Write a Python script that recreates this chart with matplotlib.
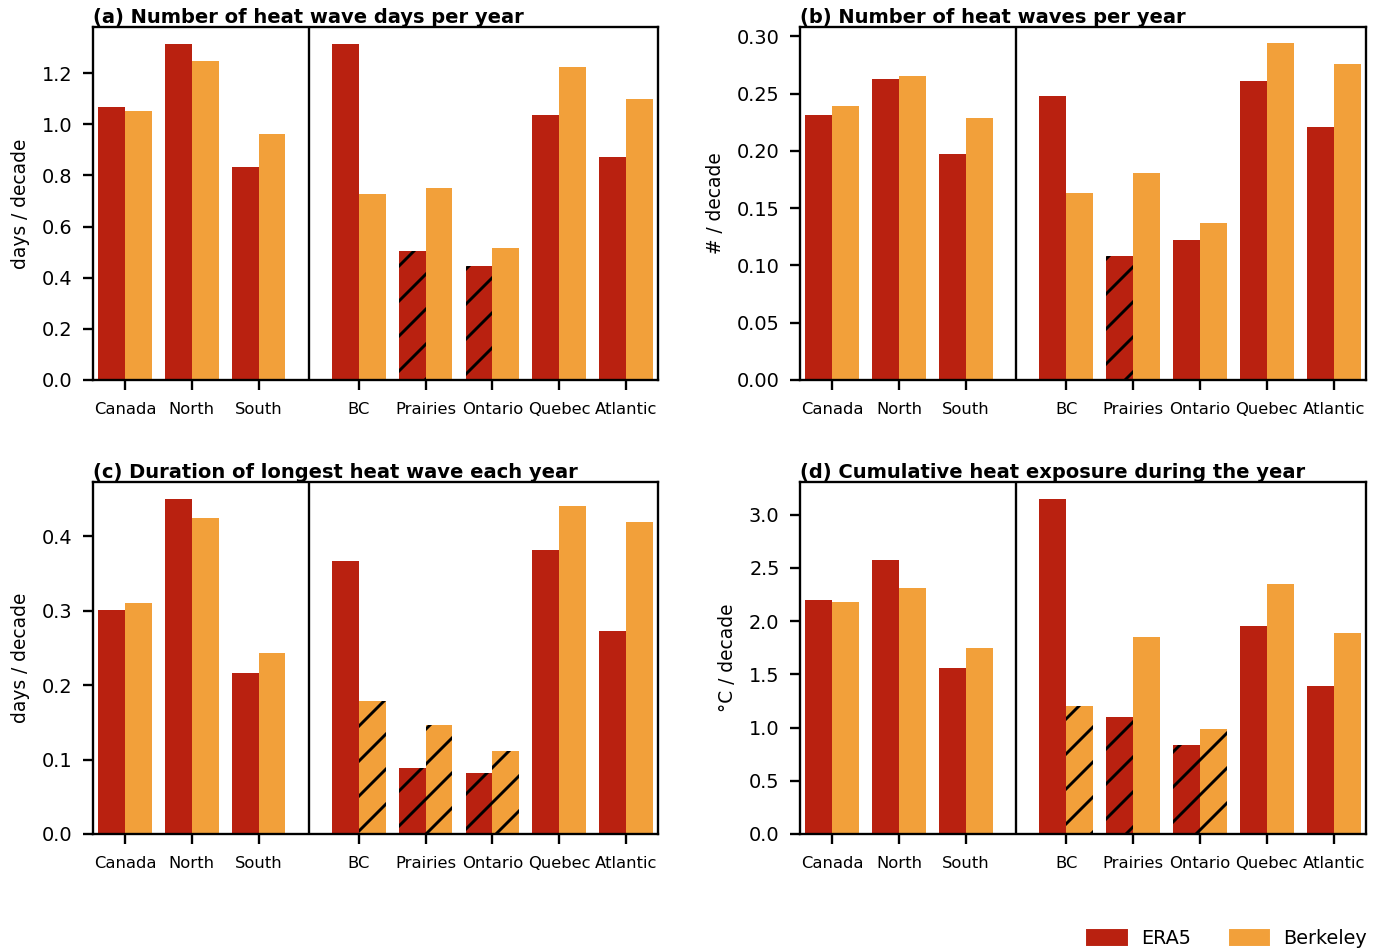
import numpy as np
import matplotlib
matplotlib.use('Agg')
import matplotlib.pyplot as plt
from matplotlib.patches import Patch

# Regions and trend values (per decade)
regions = ['Canada', 'North', 'South', 'BC', 'Prairies', 'Ontario', 'Quebec', 'Atlantic']

# (a) number of heat wave days per year
hwd_era5 = [1.066, 1.315, 0.834, 1.315, 0.504, 0.447, 1.037, 0.871]
hwd_berk = [1.053, 1.247, 0.964, 0.727, 0.752, 0.516, 1.225, 1.100]
# (b) number of heat waves per year
hwn_era5 = [0.231, 0.263, 0.197, 0.248, 0.108, 0.122, 0.261, 0.221]
hwn_berk = [0.239, 0.265, 0.229, 0.163, 0.181, 0.137, 0.294, 0.276]
# (c) duration of longest heat wave
hwl_era5 = [0.301, 0.450, 0.216, 0.367, 0.089, 0.082, 0.382, 0.273]
hwl_berk = [0.311, 0.424, 0.243, 0.179, 0.147, 0.111, 0.441, 0.419]
# (d) cumulative heat exposure
hwc_era5 = [2.20, 2.57, 1.56, 3.15, 1.10, 0.84, 1.95, 1.39]
hwc_berk = [2.18, 2.31, 1.75, 1.20, 1.85, 0.99, 2.35, 1.89]

# not significant -> hatched
hatch_era5 = {
    'a': [False, False, False, False, True, True, False, False],
    'b': [False, False, False, False, True, False, False, False],
    'c': [False, False, False, False, True, True, False, False],
    'd': [False, False, False, False, True, True, False, False],
}
hatch_berk = {
    'a': [False] * 8,
    'b': [False] * 8,
    'c': [False, False, False, True, True, True, False, False],
    'd': [False, False, False, True, False, True, False, False],
}

titles = {
    'a': '(a) Number of heat wave days per year',
    'b': '(b) Number of heat waves per year',
    'c': '(c) Duration of longest heat wave each year',
    'd': '(d) Cumulative heat exposure during the year',
}
ylabels = {'a': 'days / decade', 'b': '# / decade', 'c': 'days / decade', 'd': '°C / decade'}
ylims = {'a': 1.38, 'b': 0.308, 'c': 0.473, 'd': 3.306}
data = {
    'a': (hwd_era5, hwd_berk),
    'b': (hwn_era5, hwn_berk),
    'c': (hwl_era5, hwl_berk),
    'd': (hwc_era5, hwc_berk),
}

c_era5 = '#B92110'
c_berk = '#F2A03A'

plt.rcParams['font.family'] = 'DejaVu Sans'
plt.rcParams['hatch.linewidth'] = 1.0

dpi = 210
fig = plt.figure(figsize=(1379 / dpi, 949 / dpi), dpi=dpi)

xpos = np.array([0, 1, 2, 3.5, 4.5, 5.5, 6.5, 7.5])
w = 0.4

boxes = {
    'a': [0.0674, 0.5996, 0.4098, 0.3717],
    'b': [0.5801, 0.5996, 0.4104, 0.3717],
    'c': [0.0674, 0.1212, 0.4098, 0.3709],
    'd': [0.5801, 0.1212, 0.4104, 0.3709],
}

for key in ['a', 'b', 'c', 'd']:
    ax = fig.add_axes(boxes[key])
    era5, berk = data[key]
    b1 = ax.bar(xpos - w / 2, era5, w, color=c_era5)
    b2 = ax.bar(xpos + w / 2, berk, w, color=c_berk)
    for bar, h in zip(b1, hatch_era5[key]):
        if h:
            bar.set_hatch('//')
    for bar, h in zip(b2, hatch_berk[key]):
        if h:
            bar.set_hatch('//')
    ax.axvline(2.75, color='black', linewidth=0.8)
    ax.set_xlim(-0.48, 7.98)
    ax.set_ylim(0, ylims[key])
    ax.set_xticks(xpos)
    ax.set_xticklabels(regions, fontsize=5.6)
    ax.tick_params(axis='y', labelsize=6.6)
    ax.tick_params(axis='x', pad=4)
    ax.set_ylabel(ylabels[key], fontsize=6.4)
    ax.set_title(titles[key], loc='left', fontsize=6.7, fontweight='bold', pad=1.5)

handles = [Patch(color=c_era5, label='ERA5'), Patch(color=c_berk, label='Berkeley')]
fig.legend(handles=handles, loc='lower right', bbox_to_anchor=(1.004, -0.017), ncol=2,
           frameon=False, fontsize=6.6, columnspacing=2.0)

fig.savefig('out.png', dpi=dpi)
